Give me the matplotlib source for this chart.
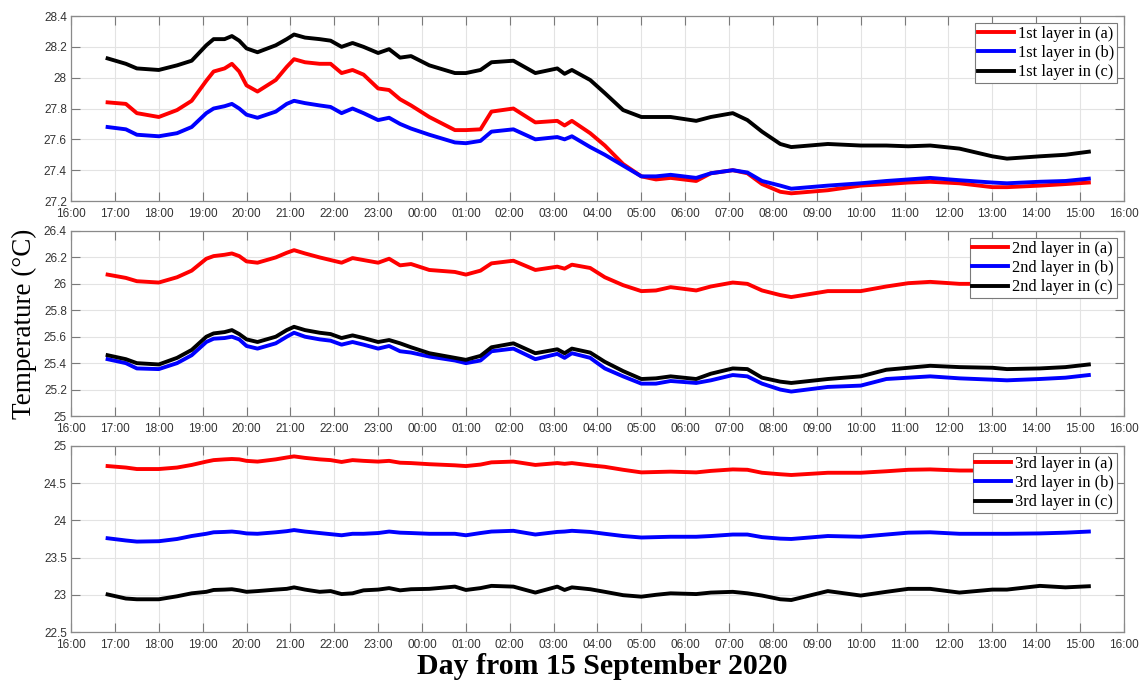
#!/usr/bin/env python3

from __future__ import annotations

import matplotlib

matplotlib.use("Agg")
import matplotlib.pyplot as plt
from matplotlib.ticker import FuncFormatter, MultipleLocator


# Sample times (clock time, the record runs from 15 Sep 16:50 to 16 Sep 15:12)
TIMES = [
    "16:50", "17:15", "17:30", "18:00", "18:25", "18:45", "19:05", "19:15",
    "19:30", "19:40", "19:50", "20:00", "20:15", "20:40", "20:55", "21:05",
    "21:20", "21:40", "21:55", "22:10", "22:25", "22:40", "23:00", "23:15",
    "23:30", "23:45", "00:10", "00:45", "01:00", "01:20", "01:35", "02:05",
    "02:35", "03:05", "03:15", "03:25", "03:50", "04:10", "04:35", "05:00",
    "05:20", "05:40", "06:15", "06:35", "07:05", "07:25", "07:45", "08:10",
    "08:25", "09:15", "10:00", "10:35", "11:05", "11:35", "12:15", "13:00",
    "13:20", "14:05", "14:40", "15:12",
]

# 1st layer
L1_A = [
    27.84, 27.83, 27.77, 27.745, 27.79, 27.85, 27.98, 28.04,
    28.06, 28.09, 28.04, 27.95, 27.91, 27.985, 28.07, 28.12,
    28.10, 28.09, 28.09, 28.03, 28.05, 28.02, 27.93, 27.92,
    27.86, 27.82, 27.745, 27.66, 27.66, 27.665, 27.78, 27.80,
    27.71, 27.72, 27.69, 27.72, 27.64, 27.56, 27.44, 27.36,
    27.34, 27.35, 27.33, 27.38, 27.40, 27.38, 27.31, 27.26,
    27.25, 27.27, 27.30, 27.31, 27.32, 27.325, 27.315, 27.29,
    27.29, 27.30, 27.31, 27.32,
]
L1_B = [
    27.68, 27.665, 27.63, 27.62, 27.64, 27.68, 27.77, 27.80,
    27.815, 27.83, 27.80, 27.76, 27.74, 27.78, 27.83, 27.85,
    27.835, 27.82, 27.81, 27.77, 27.80, 27.77, 27.725, 27.74,
    27.70, 27.67, 27.63, 27.58, 27.575, 27.59, 27.65, 27.665,
    27.60, 27.615, 27.60, 27.62, 27.55, 27.50, 27.43, 27.36,
    27.36, 27.37, 27.35, 27.38, 27.40, 27.385, 27.33, 27.30,
    27.28, 27.30, 27.315, 27.33, 27.34, 27.35, 27.335, 27.32,
    27.315, 27.325, 27.33, 27.345,
]
L1_C = [
    28.125, 28.09, 28.06, 28.05, 28.08, 28.11, 28.21, 28.25,
    28.25, 28.27, 28.24, 28.19, 28.165, 28.21, 28.25, 28.28,
    28.26, 28.25, 28.24, 28.20, 28.225, 28.20, 28.16, 28.185,
    28.13, 28.14, 28.08, 28.03, 28.03, 28.05, 28.10, 28.11,
    28.03, 28.06, 28.025, 28.05, 27.985, 27.90, 27.79, 27.745,
    27.745, 27.745, 27.72, 27.745, 27.77, 27.725, 27.65, 27.57,
    27.55, 27.57, 27.56, 27.56, 27.555, 27.56, 27.54, 27.49,
    27.475, 27.49, 27.50, 27.52,
]

# 2nd layer
L2_A = [
    26.07, 26.045, 26.02, 26.01, 26.05, 26.10, 26.19, 26.21,
    26.22, 26.23, 26.21, 26.17, 26.16, 26.20, 26.235, 26.255,
    26.23, 26.20, 26.18, 26.16, 26.195, 26.18, 26.16, 26.19,
    26.14, 26.15, 26.105, 26.09, 26.07, 26.10, 26.155, 26.175,
    26.105, 26.13, 26.115, 26.145, 26.12, 26.05, 25.99, 25.945,
    25.95, 25.975, 25.95, 25.98, 26.01, 26.00, 25.95, 25.915,
    25.90, 25.945, 25.945, 25.98, 26.005, 26.015, 26.00, 26.00,
    26.00, 26.00, 26.00, 26.00,
]
L2_B = [
    25.43, 25.40, 25.36, 25.355, 25.40, 25.46, 25.56, 25.585,
    25.59, 25.60, 25.58, 25.53, 25.51, 25.55, 25.60, 25.63,
    25.60, 25.58, 25.57, 25.54, 25.56, 25.54, 25.51, 25.53,
    25.49, 25.48, 25.45, 25.42, 25.40, 25.42, 25.49, 25.51,
    25.43, 25.47, 25.44, 25.475, 25.44, 25.36, 25.30, 25.245,
    25.245, 25.265, 25.25, 25.27, 25.31, 25.30, 25.245, 25.20,
    25.185, 25.22, 25.23, 25.28, 25.29, 25.30, 25.285, 25.275,
    25.27, 25.28, 25.29, 25.31,
]
L2_C = [
    25.46, 25.43, 25.40, 25.39, 25.44, 25.50, 25.60, 25.625,
    25.635, 25.65, 25.62, 25.58, 25.56, 25.60, 25.65, 25.675,
    25.65, 25.63, 25.62, 25.59, 25.61, 25.59, 25.56, 25.575,
    25.55, 25.52, 25.475, 25.44, 25.425, 25.455, 25.52, 25.55,
    25.475, 25.505, 25.475, 25.51, 25.48, 25.41, 25.34, 25.28,
    25.285, 25.30, 25.28, 25.32, 25.36, 25.355, 25.29, 25.26,
    25.25, 25.28, 25.30, 25.35, 25.365, 25.38, 25.37, 25.365,
    25.355, 25.36, 25.37, 25.39,
]

# 3rd layer
L3_A = [
    24.73, 24.71, 24.69, 24.69, 24.71, 24.745, 24.79, 24.81,
    24.82, 24.825, 24.82, 24.80, 24.79, 24.82, 24.845, 24.86,
    24.84, 24.82, 24.81, 24.785, 24.81, 24.80, 24.79, 24.80,
    24.775, 24.77, 24.755, 24.74, 24.73, 24.75, 24.78, 24.79,
    24.745, 24.77, 24.76, 24.77, 24.74, 24.72, 24.68, 24.645,
    24.65, 24.655, 24.645, 24.665, 24.685, 24.68, 24.64, 24.62,
    24.61, 24.64, 24.64, 24.66, 24.68, 24.685, 24.67, 24.67,
    24.67, 24.67, 24.67, 24.67,
]
L3_B = [
    23.76, 23.73, 23.715, 23.72, 23.75, 23.79, 23.82, 23.84,
    23.845, 23.85, 23.84, 23.825, 23.82, 23.84, 23.855, 23.87,
    23.85, 23.83, 23.815, 23.80, 23.82, 23.82, 23.83, 23.85,
    23.835, 23.83, 23.82, 23.82, 23.80, 23.83, 23.85, 23.86,
    23.81, 23.845, 23.85, 23.86, 23.845, 23.82, 23.79, 23.77,
    23.775, 23.78, 23.78, 23.79, 23.81, 23.81, 23.775, 23.755,
    23.75, 23.79, 23.78, 23.81, 23.835, 23.84, 23.82, 23.82,
    23.82, 23.825, 23.835, 23.85,
]
L3_C = [
    23.005, 22.95, 22.94, 22.94, 22.98, 23.02, 23.04, 23.065,
    23.07, 23.075, 23.06, 23.04, 23.05, 23.07, 23.08, 23.10,
    23.07, 23.04, 23.05, 23.01, 23.02, 23.06, 23.07, 23.09,
    23.06, 23.075, 23.08, 23.11, 23.065, 23.09, 23.12, 23.11,
    23.03, 23.11, 23.065, 23.10, 23.075, 23.04, 22.995, 22.975,
    23.00, 23.02, 23.01, 23.03, 23.04, 23.02, 22.99, 22.94,
    22.93, 23.05, 22.99, 23.04, 23.08, 23.08, 23.03, 23.07,
    23.07, 23.12, 23.10, 23.115,
]

LAYER_NAMES = ["1st", "2nd", "3rd"]
CASES = ["a", "b", "c"]
COLORS = ["#ff0000", "#0000ff", "#000000"]

START_HOUR = 16


def to_hours(clock: str) -> float:
    h, m = (int(x) for x in clock.split(":"))
    return (h - START_HOUR) % 24 + m / 60.0


def hour_label(x, _pos) -> str:
    return f"{(START_HOUR + int(round(x))) % 24:02d}:00"


def num_label(y, _pos) -> str:
    return f"{y:g}"


def style_axis(ax, ylim, ystep) -> None:
    ax.set_xlim(0, 24)
    ax.set_ylim(*ylim)
    ax.xaxis.set_major_locator(MultipleLocator(1))
    ax.yaxis.set_major_locator(MultipleLocator(ystep))
    ax.xaxis.set_major_formatter(FuncFormatter(hour_label))
    ax.yaxis.set_major_formatter(FuncFormatter(num_label))

    ax.grid(True, color="#e3e3e3", linewidth=0.8)
    ax.set_axisbelow(True)
    ax.tick_params(
        direction="in", top=True, right=True, length=6.5, width=0.8,
        color="#7a7a7a", labelsize=8.5, labelcolor="#333333",
    )
    ax.tick_params(axis="x", pad=5)
    ax.tick_params(axis="y", pad=3)
    for label in ax.get_xticklabels() + ax.get_yticklabels():
        label.set_fontfamily("Liberation Sans")
    for spine in ax.spines.values():
        spine.set_color("#8a8a8a")
        spine.set_linewidth(0.9)


def main() -> None:
    x = [to_hours(t) for t in TIMES]
    layers = [
        (L1_A, L1_B, L1_C),
        (L2_A, L2_B, L2_C),
        (L3_A, L3_B, L3_C),
    ]
    ylims = [(27.2, 28.4), (25.0, 26.4), (22.5, 25.0)]
    ysteps = [0.2, 0.2, 0.5]

    fig = plt.figure(figsize=(11.42, 6.84), dpi=100)
    rects = [
        (0.0622, 0.7061, 0.922, 0.2705),
        (0.0622, 0.3918, 0.922, 0.2705),
        (0.0622, 0.0760, 0.922, 0.2720),
    ]

    for rect, name, series, ylim, ystep in zip(rects, LAYER_NAMES, layers, ylims, ysteps):
        ax = fig.add_axes(rect)
        for values, case, color in zip(series, CASES, COLORS):
            ax.plot(x, values, color=color, linewidth=2.8,
                    label=f"{name} layer in ({case})")
        style_axis(ax, ylim, ystep)
        leg = ax.legend(
            loc="upper right", prop={"family": "Liberation Serif", "size": 11.8},
            frameon=True, fancybox=False, framealpha=1.0, edgecolor="#7a7a7a",
            borderaxespad=0.45, borderpad=0.15, handlelength=2.2,
            handletextpad=0.25, labelspacing=0.2,
        )
        leg.get_frame().set_linewidth(0.8)
        leg.set_zorder(5)

    fig.text(0.021, 0.527, "Temperature (\u00b0C)", rotation=90, va="center",
             ha="center", fontsize=19.5, family="Liberation Serif")
    fig.text(0.527, 0.026, "Day from 15 September 2020", va="center",
             ha="center", fontsize=21.5, fontweight="bold", family="Liberation Serif")

    fig.savefig("out.png", dpi=100)
    plt.close(fig)


if __name__ == "__main__":
    main()
